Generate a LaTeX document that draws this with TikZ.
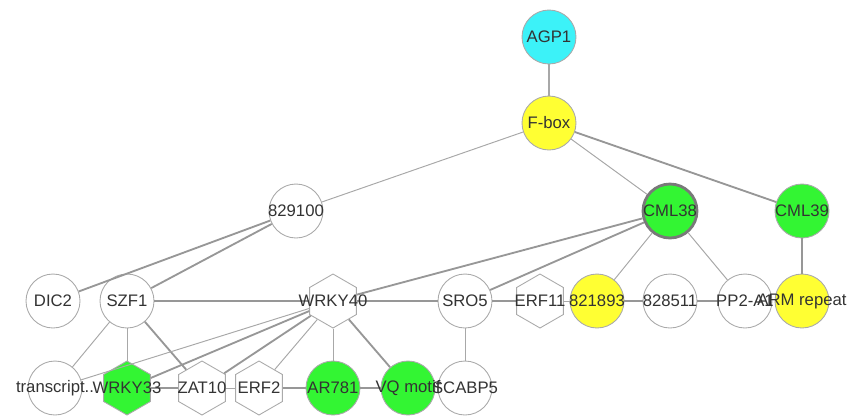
\documentclass[tikz,border=0pt]{standalone}
\usepackage{fontspec}
\setmainfont{Liberation Sans}
\usepackage{xcolor}
\usetikzlibrary{shapes.geometric}

\definecolor{nodeline}{HTML}{AAAAAA}
\definecolor{edgegray}{HTML}{A8A8A8}
\definecolor{hitcyan}{HTML}{3CF2F8}
\definecolor{hityellow}{HTML}{FFFF33}
\definecolor{hitgreen}{HTML}{33F533}
\definecolor{labeltext}{HTML}{333333}

\begin{document}
\begin{tikzpicture}[x=0.02cm,y=-0.02cm,
  gene/.style={circle,draw=nodeline,line width=0.5pt,fill=white,minimum size=1.08cm,inner sep=0pt},
  tf/.style={regular polygon,regular polygon sides=6,shape border rotate=30,draw=nodeline,line width=0.5pt,fill=white,minimum size=1.08cm,inner sep=0pt},
  lbl/.style={inner sep=0pt,text=labeltext,font=\fontsize{9.5}{11}\selectfont},
  link/.style={draw=edgegray,line width=0.55pt},
  strong/.style={draw=edgegray!90!black,line width=1.05pt}]
  \useasboundingbox (0,0) rectangle (859,417);
  % nodes
  \node[gene,fill=hitcyan] (agp) at (549,37) {};
  \node[gene,fill=hityellow] (fbox) at (549,123) {};
  \node[gene] (n829) at (296,211) {};
  \node[gene,fill=hitgreen,draw=gray!95!black,line width=1.6pt] (cml38) at (670,211) {};
  \node[gene,fill=hitgreen] (cml39) at (802,211) {};
  \node[gene] (dic2) at (53,301) {};
  \node[gene] (szf1) at (127,301) {};
  \node[tf] (wrky40) at (333,301) {};
  \node[gene] (sro5) at (465,301) {};
  \node[tf] (erf11) at (540,301) {};
  \node[gene,fill=hityellow] (n821) at (597,301) {};
  \node[gene] (n828) at (670,301) {};
  \node[gene] (pp2) at (745,301) {};
  \node[gene,fill=hityellow] (arm) at (802,301) {};
  \node[gene] (trans) at (55,388) {};
  \node[tf,fill=hitgreen] (wrky33) at (127,388) {};
  \node[tf] (zat10) at (202,388) {};
  \node[tf] (erf2) at (259,388) {};
  \node[gene,fill=hitgreen] (ar781) at (333,388) {};
  \node[gene,fill=hitgreen] (vq) at (408,388) {};
  \node[gene] (scabp5) at (465,388) {};
  % edges
  \draw[link,line width=0.8pt] (agp) -- (fbox);
  \draw[link] (fbox) -- (n829);
  \draw[link] (fbox) -- (cml38);
  \draw[strong] (fbox) -- (cml39);
  \draw[strong] (n829) -- (dic2);
  \draw[strong] (n829) -- (szf1);
  \draw[strong] (cml38) -- (wrky40);
  \draw[strong] (cml38) -- (sro5);
  \draw[link] (cml38) -- (n821);
  \draw[link] (cml38) -- (pp2);
  \draw[strong] (cml39) -- (arm);
  \draw[strong] (szf1) -- (wrky40);
  \draw[strong] (wrky40) -- (sro5);
  \draw[strong] (sro5) -- (erf11);
  \draw[link] (erf11) -- (n821);
  \draw[strong] (n821) -- (n828);
  \draw[strong] (n828) -- (pp2);
  \draw[link] (sro5) -- (scabp5);
  \draw[link] (szf1) -- (trans);
  \draw[link] (szf1) -- (wrky33);
  \draw[strong] (szf1) -- (zat10);
  \draw[link] (wrky40) -- (trans);
  \draw[strong] (wrky40) -- (wrky33);
  \draw[strong] (wrky40) -- (zat10);
  \draw[link] (wrky40) -- (erf2);
  \draw[link] (wrky40) -- (ar781);
  \draw[strong] (wrky40) -- (vq);
  \draw[strong] (wrky33) -- (zat10);
  \draw[link] (zat10) -- (erf2);
  \draw[strong] (erf2) -- (ar781);
  \draw[strong] (ar781) -- (vq);
  % labels on top
  \foreach \n/\t in {agp/AGP1, fbox/F-box, n829/829100, cml38/CML38, cml39/CML39,
      dic2/DIC2, szf1/SZF1, wrky40/WRKY40, sro5/SRO5, erf11/ERF11, n821/821893,
      n828/828511, pp2/PP2-A1, arm/ARM repeat, trans/transcript.., wrky33/WRKY33,
      zat10/ZAT10, erf2/ERF2, ar781/AR781, vq/VQ motif, scabp5/SCABP5}
    \node[lbl] (\n-t) at (\n) {\t};
\end{tikzpicture}
\end{document}
